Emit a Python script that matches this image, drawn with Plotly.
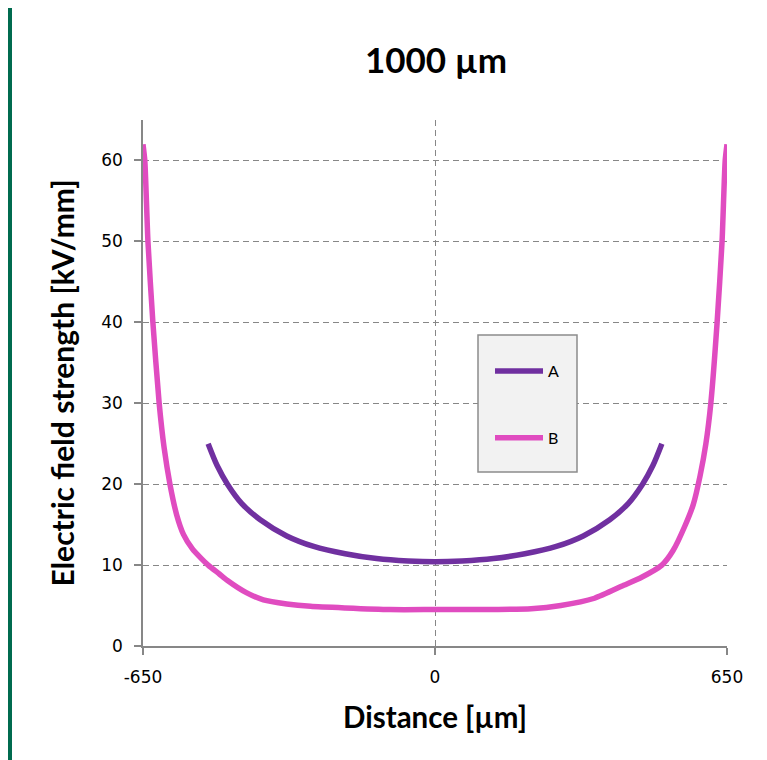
import plotly.graph_objects as go

# ---- data ----
dist_A = [-505, -485, -462, -430, -389, -330, -270, -200, -130, -60, 0, 60, 130, 200, 270, 330, 389, 430, 462, 485, 505]
field_A = [25, 22.3, 20, 17.6, 15.6, 13.6, 12.3, 11.4, 10.8, 10.5, 10.4, 10.5, 10.8, 11.4, 12.3, 13.6, 15.6, 17.6, 20, 22.3, 25]

dist_B = [-650, -646, -639, -628, -614, -603, -590, -575, -560, -540, -520, -505, -480, -462, -420, -382, -330,
          -277, -200, -100, 0, 100, 214, 280, 355, 420, 460, 505, 530, 556, 575, 590, 603, 614, 628, 639, 646, 650]
field_B = [62, 60, 50, 40, 30, 24.5, 20, 16.2, 13.8, 12.0, 10.8, 10.0, 8.9, 8.1, 6.6, 5.7, 5.2,
           4.9, 4.7, 4.5, 4.5, 4.5, 4.6, 5.0, 5.9, 7.5, 8.5, 10.0, 11.8, 14.8, 17.5, 21.0, 25.0, 30, 40, 50, 60, 62]

series_names = ["A", "B"]
x_ticks = [-650, 0, 650]
y_ticks = [0, 10, 20, 30, 40, 50, 60]

title_text = "1000 µm"
x_title = "Distance [µm]"
y_title = "Electric field strength [kV/mm]"

# ---- layout constants (page is offset by the 8px body margin) ----
OFF = 8
W, H = 767 - OFF, 760 - OFF
ML, MR, MT, MB = 143 - OFF, 40, 120 - OFF, 114
PW, PH = W - ML - MR, H - MT - MB


def fx(page_px):
    return (page_px - OFF - ML) / PW


def fy(page_py):
    return (H - MB - (page_py - OFF)) / PH


grid_col = "#878787"
col_A = "#7030A0"
col_B = "#E04CC0"

fig = go.Figure()
fig.add_trace(go.Scatter(x=dist_A, y=field_A, name=series_names[0], mode="lines",
                         line=dict(color=col_A, width=5.5, shape="spline", smoothing=0.8),
                         legendgroup="a"))
fig.add_trace(go.Scatter(x=dist_B, y=field_B, name=series_names[1], mode="lines",
                         line=dict(color=col_B, width=5.5, shape="spline", smoothing=0.6),
                         legendgroup="b"))

shapes = [
    # legend box
    dict(type="rect", xref="paper", yref="paper", layer="above",
         x0=fx(478), x1=fx(577), y0=fy(472), y1=fy(335),
         fillcolor="#F2F2F2", line=dict(color="#8C8C8C", width=1.5)),
    # green slide frame (left strip)
    dict(type="rect", xref="paper", yref="paper", layer="above",
         x0=fx(-10), x1=fx(12), y0=fy(780), y1=fy(-10),
         fillcolor="#006B4F", line=dict(width=0)),
]

tick_font = dict(family="DejaVu Sans", size=17, color="black")

fig.update_layout(
    width=W, height=H,
    margin=dict(l=ML, r=MR, t=MT, b=MB),
    paper_bgcolor="white", plot_bgcolor="white",
    title=dict(text="<b>" + title_text + "</b>", x=(436 - OFF) / W, xanchor="center",
               y=1 - (61 - OFF) / H, yanchor="middle", yref="container",
               font=dict(family="Lato", size=35, color="black")),
    xaxis=dict(range=[-650, 650], tickvals=x_ticks, ticktext=[str(v) for v in x_ticks],
               showgrid=True, griddash="6px,4px", gridcolor=grid_col, gridwidth=1.2,
               showline=True, linecolor=grid_col, linewidth=1.5, zeroline=False,
               ticks="outside", ticklen=7, tickcolor=grid_col, tickwidth=1.5,
               ticklabelstandoff=8, tickfont=tick_font,
               title=dict(text="<b>" + x_title + "</b>", standoff=21,
                          font=dict(family="Lato", size=29.5, color="black"))),
    yaxis=dict(range=[0, 65], tickvals=y_ticks,
               showgrid=True, griddash="6px,4px", gridcolor=grid_col, gridwidth=1.2,
               showline=True, linecolor=grid_col, linewidth=1.5, zeroline=False,
               ticks="outside", ticklen=7, tickcolor=grid_col, tickwidth=1.5,
               ticklabelstandoff=8, tickfont=tick_font,
               title=dict(text="<b>" + y_title + "</b>", standoff=18,
                          font=dict(family="Lato", size=30, color="black"))),
    showlegend=True,
    legend=dict(x=fx(490), y=fy(354), xanchor="left", yanchor="top",
                bgcolor="rgba(0,0,0,0)", borderwidth=0, tracegroupgap=43,
                itemwidth=48,
                font=dict(family="Lato", size=16, color="black")),
    shapes=shapes,
)

fig.write_html("out.html")
